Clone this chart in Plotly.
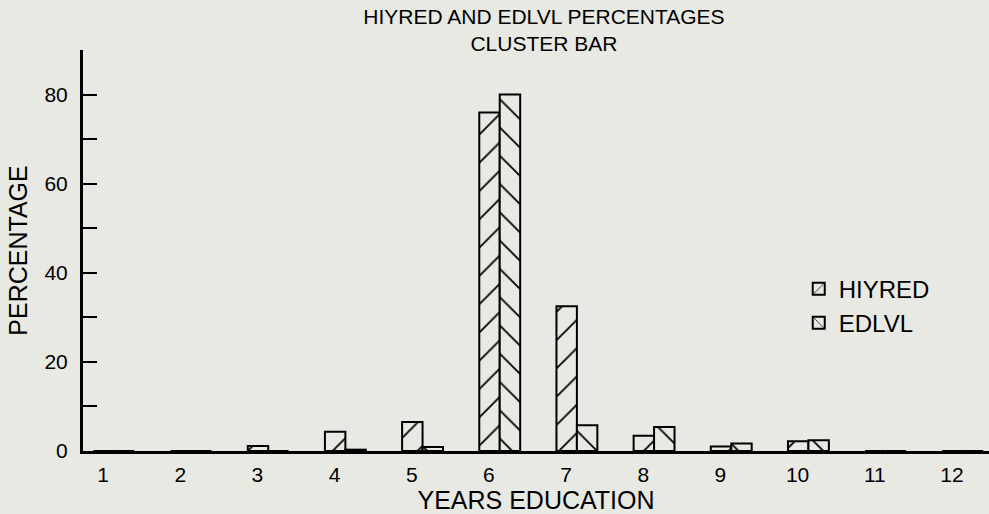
import plotly.graph_objects as go

years = [1, 2, 3, 4, 5, 6, 7, 8, 9, 10, 11, 12]
year_labels = ["1", "2", "3", "4", "5", "6", "7", "8", "9", "10", "11", "12"]
hiyred = [0, 0, 1.1, 4.3, 6.5, 76, 32.5, 3.4, 1.0, 2.2, 0, 0]
edlvl = [0, 0, 0, 0.3, 0.9, 80, 5.8, 5.4, 1.7, 2.4, 0, 0]
y_ticks = [0, 10, 20, 30, 40, 50, 60, 70, 80, 90]
y_tick_labels = ["0", "", "20", "", "40", "", "60", "", "80", ""]

BG = "#e8e9e3"
FONT = "Liberation Sans"
FS = 21

fig = go.Figure()
fig.add_trace(go.Bar(
    x=years, y=hiyred, name="HIYRED",
    offset=-0.125, width=0.265,
    marker=dict(color=BG, line=dict(color="black", width=2),
                pattern=dict(shape="/", fgcolor="black", fgopacity=1, bgcolor=BG,
                             size=20, solidity=0.09)),
))
fig.add_trace(go.Bar(
    x=years, y=edlvl, name="EDLVL",
    offset=0.14, width=0.265,
    marker=dict(color=BG, line=dict(color="black", width=2),
                pattern=dict(shape="\\", fgcolor="black", fgopacity=1, bgcolor=BG,
                             size=20, solidity=0.09)),
))

fig.update_layout(
    width=989, height=514,
    paper_bgcolor=BG, plot_bgcolor=BG,
    margin=dict(l=83, r=0, t=50, b=63),
    font=dict(family=FONT, size=FS, color="black"),
    title=dict(text="HIYRED AND EDLVL PERCENTAGES<br>CLUSTER BAR",
               x=0.55, xanchor="center", y=0.953, yanchor="top", yref="container",
               font=dict(family=FONT, size=FS, color="black")),
    barmode="group",
    showlegend=True,
    legend=dict(x=0.79, xanchor="left", y=0.46, yanchor="top",
                bgcolor="rgba(0,0,0,0)", font=dict(family=FONT, size=24),
                itemsizing="constant"),
    xaxis=dict(range=[0.74, 12.48], tickvals=years, ticktext=year_labels,
               showline=True, linecolor="black", linewidth=3, ticks="",
               showgrid=False, zeroline=False, ticklabelstandoff=3,
               title=dict(text="YEARS EDUCATION", standoff=11)),
    yaxis=dict(range=[0, 90], tickvals=y_ticks, ticktext=y_tick_labels,
               showline=True, linecolor="black", linewidth=3, ticks="inside",
               ticklen=14, tickwidth=2, tickcolor="black",
               showgrid=False, zeroline=False, ticklabelstandoff=8,
               title=dict(text="PERCENTAGE", standoff=10)),
)

fig.write_html(
    "out.html",
    config={"displayModeBar": False},
    post_script="document.body.style.margin='0';document.body.style.background='%s';" % BG,
)
